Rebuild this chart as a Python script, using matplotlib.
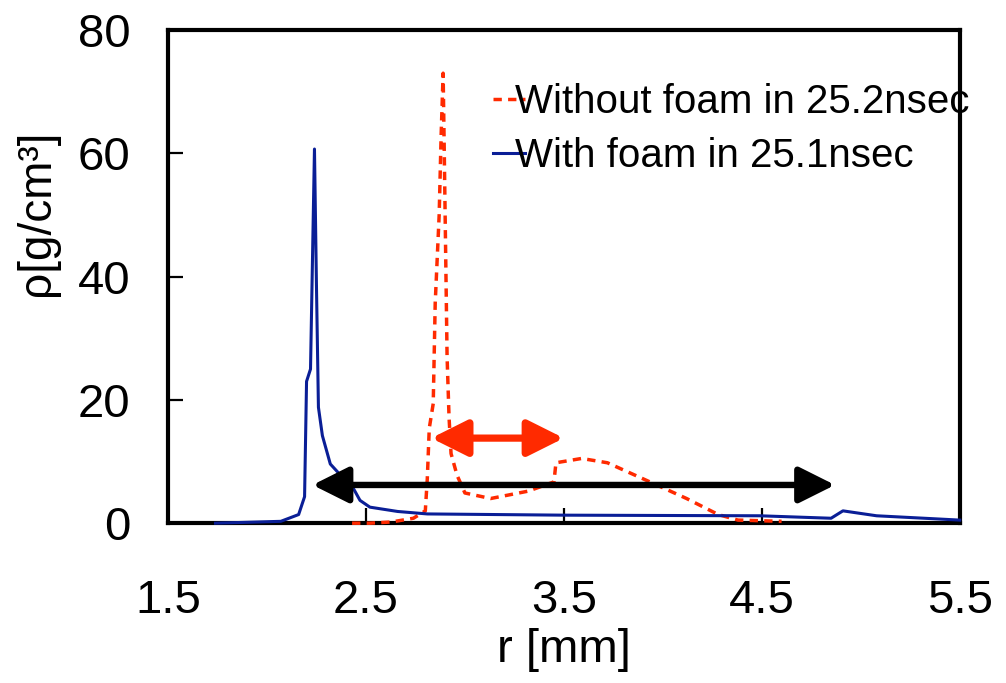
import matplotlib
matplotlib.use("Agg")
import matplotlib.pyplot as plt

# --- data
# with foam, 25.1 nsec (solid blue)
r_foam = [1.74, 2.07, 2.16, 2.19, 2.20, 2.22, 2.24, 2.25, 2.26, 2.28, 2.32, 2.38,
          2.42, 2.47, 2.52, 2.66, 2.81, 3.50, 4.49, 4.85, 4.91, 5.08, 5.50]
rho_foam = [0.0, 0.3, 1.4, 4.3, 23.0, 25.0, 60.7, 38.6, 18.8, 14.2, 9.6, 7.5,
            6.6, 3.7, 2.6, 1.9, 1.5, 1.3, 1.2, 0.8, 2.0, 1.2, 0.5]

# without foam, 25.2 nsec (dashed red)
r_nofoam = [2.43, 2.52, 2.63, 2.74, 2.80, 2.81, 2.82, 2.84, 2.85, 2.87, 2.88, 2.89,
            2.895, 2.91, 2.92, 2.93, 2.96, 3.00, 3.13, 3.32, 3.45, 3.46, 3.59, 3.72,
            3.90, 4.12, 4.28, 4.38, 4.60]
rho_nofoam = [0.0, 0.0, 0.2, 0.8, 2.0, 7.2, 15.4, 19.4, 35.7, 50.0, 63.0, 73.0,
              62.0, 27.0, 17.1, 11.3, 7.8, 4.9, 4.0, 5.2, 6.7, 9.8, 10.5, 9.8,
              7.2, 4.0, 1.4, 0.5, 0.3]

labels = ["Without foam in 25.2nsec", "With foam in 25.1nsec"]

# arrows: (r_start, r_end, rho)
black_arrow = (2.23, 4.87, 6.2)
red_arrow = (2.83, 3.50, 13.8)

x_ticks = [1.5, 2.5, 3.5, 4.5, 5.5]
y_ticks = [0, 20, 40, 60, 80]

BLUE = "#0A1E96"
RED = "#FF2A00"

plt.rcParams["font.family"] = ["Liberation Sans", "DejaVu Sans"]

fig = plt.figure(figsize=(10.06, 6.83), dpi=100)
ax = fig.add_axes([0.167, 0.234, 0.787, 0.722])

# lines above the spines, like the original
ax.plot(r_nofoam, rho_nofoam, color=RED, lw=2.5, dashes=(2.4, 1.8),
        label=labels[0], zorder=3, clip_on=False)
ax.plot(r_foam, rho_foam, color=BLUE, lw=2.2, label=labels[1], zorder=3, clip_on=False)

# double arrows
for (x0, x1, yy), col, lw in [(black_arrow, "black", 4.6), (red_arrow, RED, 5.2)]:
    ax.annotate("", xy=(x1, yy), xytext=(x0, yy),
                arrowprops=dict(arrowstyle="<|-|>,head_length=1.1,head_width=0.55",
                                mutation_scale=20, color=col, lw=lw,
                                shrinkA=0, shrinkB=0))

ax.set_xlim(1.5, 5.5)
ax.set_ylim(0, 80)
ax.set_xticks(x_ticks)
ax.set_xticklabels([f"{v:.1f}" for v in x_ticks])
ax.set_yticks(y_ticks)

ax.tick_params(axis="both", direction="in", length=11, width=1.6, labelsize=34)
ax.tick_params(axis="x", pad=40)
ax.tick_params(axis="y", pad=27)
for s in ax.spines.values():
    s.set_linewidth(3.0)

ax.set_xlabel("r [mm]", fontsize=34, labelpad=4)
ax.set_ylabel("ρ[g/cm³]", fontsize=33)
ax.yaxis.set_label_coords(-0.138, 0.63)

ax.legend(loc="upper left", bbox_to_anchor=(0.39, 0.925), frameon=False,
          fontsize=29, handlelength=0.8, handletextpad=-0.25, labelspacing=0.4,
          borderaxespad=0)

fig.savefig("out.png", dpi=100)
